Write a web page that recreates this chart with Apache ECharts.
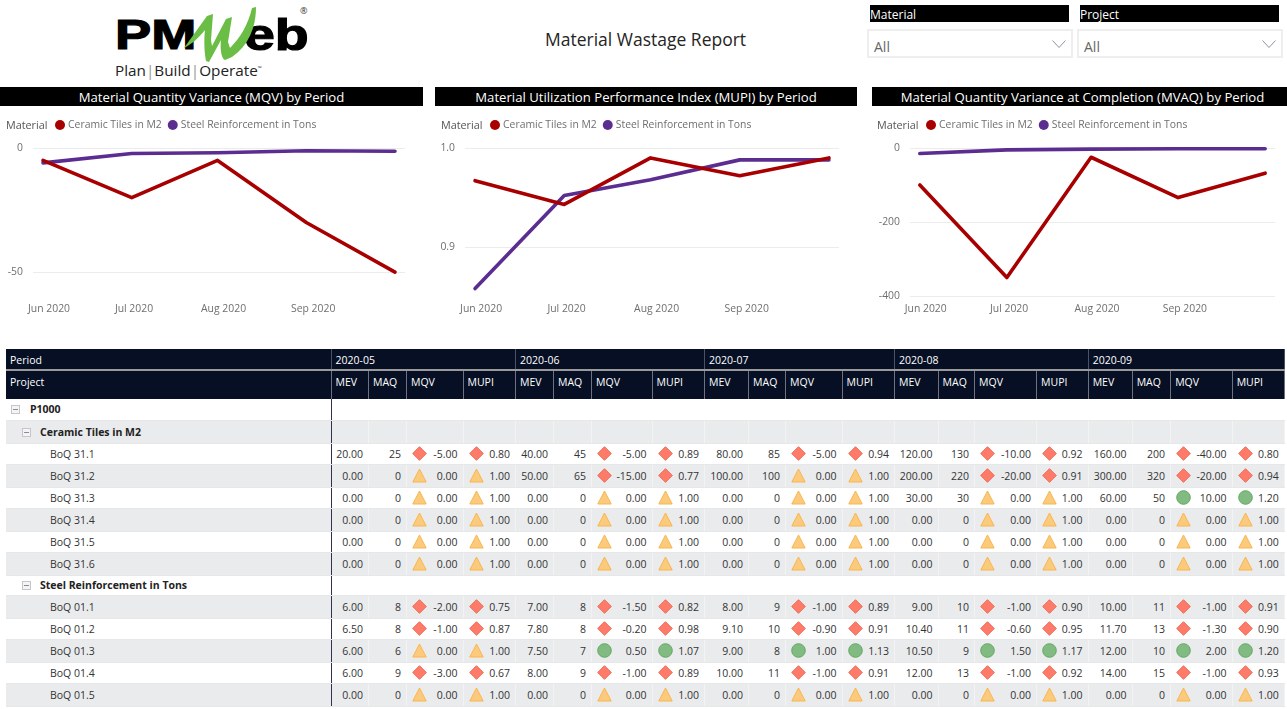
<!DOCTYPE html>
<html>
<head>
<meta charset="utf-8">
<title>Material Wastage Report</title>
<script src="https://cdn.jsdelivr.net/npm/echarts@6/dist/echarts.min.js"></script>
<style>
  html, body { margin: 0; padding: 0; background: #fff; overflow: hidden; }
  body { width: 1287px; height: 709px; position: relative; font-family: "Open Sans", "Noto Sans", sans-serif; color: #333; }
  .abs { position: absolute; }
  .bar { position: absolute; top: 87px; height: 19px; line-height: 20px; background: #000; color: #fff; text-align: center; font-size: 13.15px; white-space: nowrap; }
  .slicer-head { position: absolute; top: 5px; height: 17px; line-height: 19px; width: 199px; background: #000; color: #fff; font-size: 12px; }
  .slicer-box { position: absolute; top: 29px; height: 25px; width: 202px; border: 2px solid #eeeeee; color: #666; font-size: 14px; line-height: 31px; text-indent: 5px; }
  .slicer-box svg { position: absolute; top: 9px; right: 5px; }
  .chart { position: absolute; top: 110px; height: 230px; }

  #matrix { position: absolute; left: 6px; top: 349px; border-collapse: collapse; table-layout: fixed; font-size: 10.5px; }
  #matrix td, #matrix th { padding: 0; overflow: hidden; white-space: nowrap; }
  #matrix thead th { background: #060f24; color: #fff; font-weight: 400; text-align: left; padding-left: 4px; }
  #matrix thead tr.top th { height: 18px; padding-top: 2px; border-bottom: 2px solid #9a9a9a; border-right: 1px solid #4b5263; }
  #matrix thead tr.sub th { height: 24px; vertical-align: top; padding-top: 4px; border-right: 1px solid #6e7280; }
  #matrix td { text-align: right; padding-right: 5px; border-right: 1px solid #f3f3f4; border-bottom: 1px solid #e6e7e9; color: #333; position: relative; }
  #matrix tr.shade td { background: #eaebed; }
  #matrix td.name { text-align: left; padding-left: 44px; padding-right: 0; }
  #matrix tr.grp td.name { padding-left: 34px; font-weight: 700; color: #222; }
  #matrix tr.root td.name { padding-left: 24px; font-weight: 700; color: #222; }
  #matrix tr.white td { border-right-color: transparent; }
  #matrix td.name { border-right: 1px solid #30344a !important; }
  #matrix svg.ico { position: absolute; left: 5px; top: 50%; margin-top: -7.5px; }
  #matrix svg.exp { position: absolute; top: 50%; margin-top: -4px; }
</style>
</head>
<body>

<!-- logo -->
<div class="abs" style="left:115px;top:11px;font:900 42px 'Liberation Sans';color:#000;-webkit-text-stroke:1.2px #000;transform:scaleX(1.29);transform-origin:0 0;">PM</div>
<div class="abs" style="left:244px;top:10px;font:900 44px 'Liberation Sans';color:#000;-webkit-text-stroke:1.2px #000;transform:scaleX(1.26);transform-origin:0 0;">eb</div>
<svg class="abs" style="left:0;top:0" width="320" height="70">
  <path fill="#6abd45" d="M184,48 L207,16 L213,14 L211,40 L212,46 L226,19 L232,17 L228,42 L230,48 C240,38 248,25 252,8 L256,7 C256,28 248,46 232,57 L225,60 C221,58 220,48 221,40 L209,62 L206,61 C204,50 204,38 205,30 C197,40 190,45 184,48 Z"/>
</svg>
<div class="abs" style="left:300px;top:4px;font-size:9px;color:#333;">®</div>
<div class="abs" style="left:115px;top:60px;font-size:15.3px;color:#222;white-space:nowrap;">Plan<span style="color:#999">|</span>Build<span style="color:#999">|</span>Operate<sup style="font-size:5px">™</sup></div>

<div class="abs" style="left:545px;top:27px;font-size:17.5px;color:#252423;white-space:nowrap;">Material Wastage Report</div>

<div class="slicer-head" style="left:870px;">Material</div>
<div class="slicer-head" style="left:1080px;">Project</div>
<div class="slicer-box" style="left:867px;">All<svg width="14" height="9"><path d="M0.5,0.5 L7,7.5 L13.5,0.5" fill="none" stroke="#8a929c"/></svg></div>
<div class="slicer-box" style="left:1077px;">All<svg width="14" height="9"><path d="M0.5,0.5 L7,7.5 L13.5,0.5" fill="none" stroke="#8a929c"/></svg></div>

<div class="bar" style="left:0;width:423px;">Material Quantity Variance (MQV) by Period</div>
<div class="bar" style="left:435px;width:422px;">Material Utilization Performance Index (MUPI) by Period</div>
<div class="bar" style="left:872px;width:421px;">Material Quantity Variance at Completion (MVAQ) by Period</div>

<div id="chartMqv" class="chart" style="left:0;width:430px;"></div>
<div id="chartMupi" class="chart" style="left:430px;width:430px;"></div>
<div id="chartMvaq" class="chart" style="left:860px;width:427px;"></div>

<table id="matrix"></table>

<script>
  // days since 1 May 2020 of each period, the axis is a date axis in the report
  var periodDays = [0, 31, 61, 92, 123];
  var tickDays = [2.1, 31.8, 63.1, 94.4];
  var tickLabels = ['Jun 2020', 'Jul 2020', 'Aug 2020', 'Sep 2020'];
  var materials = ['Ceramic Tiles in M2', 'Steel Reinforcement in Tons'];

  var mqvCeramic = [-5, -20, -5, -30, -50];
  var mqvSteel = [-6, -2.2, -1.9, -1.1, -1.3];
  var mupiCeramic = [0.967, 0.943, 0.99, 0.972, 0.99];
  var mupiSteel = [0.858, 0.952, 0.968, 0.988, 0.988];
  var mvaqCeramic = [-100, -350, -25, -134, -68];
  var mvaqSteel = [-15, -5, -3, -2, -2];

  var periods = ['2020-05', '2020-06', '2020-07', '2020-08', '2020-09'];
  var measures = ['MEV', 'MAQ', 'MQV', 'MUPI'];
  var boqNames = ['BoQ 31.1', 'BoQ 31.2', 'BoQ 31.3', 'BoQ 31.4', 'BoQ 31.5', 'BoQ 31.6',
    'BoQ 01.1', 'BoQ 01.2', 'BoQ 01.3', 'BoQ 01.4', 'BoQ 01.5'];

  var mev = [
    [20, 40, 80, 120, 160],
    [0, 50, 100, 200, 300],
    [0, 0, 0, 30, 60],
    [0, 0, 0, 0, 0],
    [0, 0, 0, 0, 0],
    [0, 0, 0, 0, 0],
    [6, 7, 8, 9, 10],
    [6.5, 7.8, 9.1, 10.4, 11.7],
    [6, 7.5, 9, 10.5, 12],
    [6, 8, 10, 12, 14],
    [0, 0, 0, 0, 0]
  ];
  var maq = [
    [25, 45, 85, 130, 200],
    [0, 65, 100, 220, 320],
    [0, 0, 0, 30, 50],
    [0, 0, 0, 0, 0],
    [0, 0, 0, 0, 0],
    [0, 0, 0, 0, 0],
    [8, 8, 9, 10, 11],
    [8, 8, 10, 11, 13],
    [6, 7, 8, 9, 10],
    [9, 9, 11, 13, 15],
    [0, 0, 0, 0, 0]
  ];
  var mqv = [
    [-5, -5, -5, -10, -40],
    [0, -15, 0, -20, -20],
    [0, 0, 0, 0, 10],
    [0, 0, 0, 0, 0],
    [0, 0, 0, 0, 0],
    [0, 0, 0, 0, 0],
    [-2, -1.5, -1, -1, -1],
    [-1, -0.2, -0.9, -0.6, -1.3],
    [0, 0.5, 1, 1.5, 2],
    [-3, -1, -1, -1, -1],
    [0, 0, 0, 0, 0]
  ];
  var mupi = [
    [0.8, 0.89, 0.94, 0.92, 0.8],
    [1, 0.77, 1, 0.91, 0.94],
    [1, 1, 1, 1, 1.2],
    [1, 1, 1, 1, 1],
    [1, 1, 1, 1, 1],
    [1, 1, 1, 1, 1],
    [0.75, 0.82, 0.89, 0.9, 0.91],
    [0.87, 0.98, 0.91, 0.95, 0.9],
    [1, 1.07, 1.13, 1.17, 1.2],
    [0.67, 0.89, 0.91, 0.92, 0.93],
    [1, 1, 1, 1, 1]
  ];

  var CHART_FONT = '"Open Sans", "Noto Sans", sans-serif';

  function toPairs(values) {
    return values.map(function (v, i) { return [periodDays[i], v]; });
  }

  function drawLines(domId, ceramic, steel, cfg) {
    var chart = echarts.init(document.getElementById(domId));
    var textStyle = {color: '#6f6f6f', fontFamily: CHART_FONT, fontSize: 10.4};

    chart.setOption({
      animation: false,
      title: {
        text: 'Material',
        left: cfg.legendLeft,
        top: 10,
        padding: 0,
        textStyle: {color: '#555', fontFamily: CHART_FONT, fontSize: 10.8, fontWeight: 'normal', lineHeight: 12}
      },
      legend: {
        data: materials,
        left: cfg.legendLeft + 49,
        top: 10,
        padding: 0,
        icon: 'circle',
        itemWidth: 10,
        itemHeight: 10,
        itemGap: 6,
        selectedMode: false,
        textStyle: {color: '#6f6f6f', fontFamily: CHART_FONT, fontSize: 10.4, padding: [0, 0, 0, -2]}
      },
      grid: {left: cfg.left, width: cfg.width, top: 38, height: cfg.height},
      xAxis: {
        type: 'value',
        min: -3.5,
        max: 126.5,
        axisLine: {show: false},
        axisTick: {show: false, customValues: tickDays},
        splitLine: {show: false},
        axisLabel: Object.assign({}, textStyle, {
          customValues: tickDays,
          margin: cfg.labelMargin,
          formatter: function (v) { return tickLabels[tickDays.indexOf(+v)]; }
        })
      },
      yAxis: {
        type: 'value',
        min: cfg.min,
        max: cfg.max,
        axisLine: {show: false},
        axisTick: {show: false, customValues: cfg.ticks},
        splitLine: {show: true, lineStyle: {color: '#ececec', width: 1}},
        axisLabel: Object.assign({}, textStyle, {
          customValues: cfg.ticks,
          margin: 10,
          padding: [4, 0, 0, 0],
          formatter: cfg.format
        })
      },
      series: [
        {
          name: materials[0], type: 'line', data: toPairs(ceramic), showSymbol: false, z: 3,
          itemStyle: {color: '#a80000'},
          lineStyle: {color: '#a80000', width: 3.6, cap: 'round', join: 'round'}
        },
        {
          name: materials[1], type: 'line', data: toPairs(steel), showSymbol: false, z: 2,
          itemStyle: {color: '#5c2d91'},
          lineStyle: {color: '#5c2d91', width: 3.6, cap: 'round', join: 'round'}
        }
      ]
    });
  }

  function plainNum(v) { return String(v); }

  drawLines('chartMqv', mqvCeramic, mqvSteel, {
    legendLeft: 6, left: 33, width: 372, height: 149, labelMargin: 7,
    min: -60, max: 0, ticks: [-50, 0], format: plainNum
  });
  drawLines('chartMupi', mupiCeramic, mupiSteel, {
    legendLeft: 11, left: 35, width: 374, height: 148.5, labelMargin: 8,
    min: 0.85, max: 1, ticks: [0.9, 1],
    format: function (v) { return v.toFixed(1); }
  });
  drawLines('chartMvaq', mvaqCeramic, mvaqSteel, {
    legendLeft: 17, left: 50, width: 365, height: 148, labelMargin: 8,
    min: -400, max: 0, ticks: [-400, -200, 0], format: plainNum
  });

  // ---- matrix ----
  var colWidths = [325,
    37.5, 38, 56.5, 52.5,
    38, 38, 60.5, 52.5,
    44, 37, 56.5, 52.5,
    43.5, 36.5, 62, 51.5,
    44, 38.5, 61.5, 52];

  var ICONS = {
    down: '<svg class="ico" width="15" height="15"><path d="M7.5,0.7 L14.3,7.5 L7.5,14.3 L0.7,7.5 Z" fill="#fd7b68" stroke="#ef6a55"/></svg>',
    flat: '<svg class="ico" width="15" height="15"><path d="M7.5,1 L14.2,14 L0.8,14 Z" fill="#fcca7d" stroke="#f8b64f"/></svg>',
    up: '<svg class="ico" width="15" height="15"><circle cx="7.5" cy="7.5" r="6.8" fill="#81bb81" stroke="#63a863"/></svg>'
  };

  function expander(left) {
    return '<svg class="exp" style="left:' + left + 'px" width="9" height="9"><rect x="0.5" y="0.5" width="8" height="8" fill="#f4f4f5" stroke="#c4c6cc"/><path d="M2,4.5 H7" stroke="#8b8d93"/></svg>';
  }

  function valueCell(v, pivot, text) {
    var key = v < pivot ? 'down' : (v > pivot ? 'up' : 'flat');
    return '<td>' + ICONS[key] + text + '</td>';
  }

  function boqRow(r, height) {
    var shaded = height > 21.5;
    var html = '<tr class="' + (shaded ? 'shade' : 'white') + '" style="height:' + height + 'px"><td class="name">' + boqNames[r] + '</td>';
    for (var p = 0; p < periods.length; p++) {
      html += '<td>' + mev[r][p].toFixed(2) + '</td>';
      html += '<td>' + maq[r][p] + '</td>';
      html += valueCell(mqv[r][p], 0, mqv[r][p].toFixed(2));
      html += valueCell(mupi[r][p], 1, mupi[r][p].toFixed(2));
    }
    return html + '</tr>';
  }

  function groupRow(name, cls, height, left, shaded) {
    var html = '<tr class="' + cls + (shaded ? ' shade' : ' white') + '" style="height:' + height + 'px"><td class="name">' + expander(left) + name + '</td>';
    for (var c = 1; c < colWidths.length; c++) html += '<td></td>';
    return html + '</tr>';
  }

  function buildMatrix() {
    var html = '<colgroup>';
    var total = 0;
    colWidths.forEach(function (w) { html += '<col style="width:' + w + 'px">'; total += w; });
    html += '</colgroup><thead><tr class="top"><th>Period</th>';
    periods.forEach(function (p) { html += '<th colspan="4">' + p + '</th>'; });
    html += '</tr><tr class="sub"><th>Project</th>';
    periods.forEach(function () {
      measures.forEach(function (m) { html += '<th>' + m + '</th>'; });
    });
    html += '</tr></thead><tbody>';

    html += groupRow('P1000', 'root', 21, 5, false);
    html += groupRow(materials[0], 'grp', 23, 16, true);
    var h = [21, 23, 21, 23, 21, 23];
    for (var i = 0; i < 6; i++) html += boqRow(i, h[i]);
    html += groupRow(materials[1], 'grp', 20, 16, false);
    var h2 = [23, 21, 23, 21, 23];
    for (var j = 0; j < 5; j++) html += boqRow(6 + j, h2[j]);
    html += '</tbody>';

    var table = document.getElementById('matrix');
    table.style.width = total + 'px';
    table.innerHTML = html;
  }

  buildMatrix();
</script>
</body>
</html>
